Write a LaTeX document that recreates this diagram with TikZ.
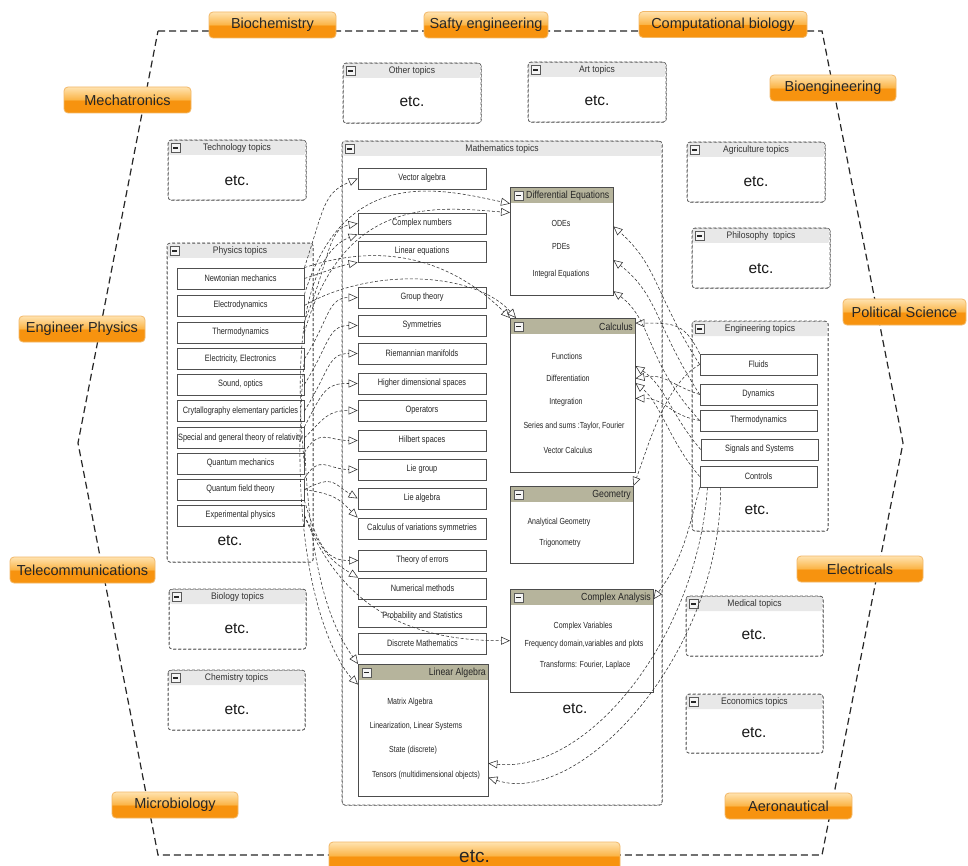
\documentclass[tikz,border=0pt]{standalone}
\usepackage{fontspec}
\setmainfont{Liberation Sans}
\newfontfamily\narrowfont[FakeStretch=0.8]{Liberation Sans}
\newfontfamily\titlefont[FakeStretch=0.9]{Liberation Sans}
\newfontfamily\headfont[FakeStretch=0.85]{Liberation Sans}
\usetikzlibrary{arrows.meta}

\definecolor{orD}{HTML}{F7930F}
\definecolor{orL}{HTML}{FBB548}
\definecolor{orLL}{HTML}{FFE3B0}
\definecolor{orB}{HTML}{F2B868}
\definecolor{headgrey}{HTML}{E8E8E8}
\definecolor{framegrey}{HTML}{5A5A5A}
\definecolor{olivegrey}{HTML}{B6B49C}
\definecolor{itemline}{HTML}{505050}
\definecolor{linkgrey}{HTML}{2E2E2E}

% glossy orange: saturated lower half, light gradient upper half
\pgfdeclareverticalshading{gloss}{100bp}{color(0bp)=(orD); color(25bp)=(orD); color(49bp)=(orD); color(51bp)=(orL); color(75bp)=(orLL); color(100bp)=(orLL)}

\tikzset{
  catlabel/.style={draw=orB, line width=0.8pt, rounded corners=4pt, shading=gloss,
    minimum height=26pt, inner xsep=3pt, font=\fontsize{14.5}{16}\selectfont, text=black!85},
  topicframe/.style={draw=framegrey, dash pattern=on 3pt off 2pt, line width=0.6pt,
    rounded corners=3pt, fill=white, inner sep=0pt},
  topictitle/.style={inner sep=0pt, text=black!80, font=\titlefont\fontsize{9.5}{11}\selectfont},
  minusicon/.style={draw=gray!70!black, fill=gray!8, minimum size=9pt, inner sep=0pt,
    path picture={\draw[line width=1.4pt, black!85]
      ([xshift=-2.5pt]path picture bounding box.center) -- ([xshift=2.5pt]path picture bounding box.center);}},
  etctext/.style={inner sep=0pt, font=\fontsize{15.5}{17}\selectfont, text=black!90},
  innerframe/.style={fill=white, draw=none, inner sep=0pt},
  innerline/.style={draw=black!70, line width=0.8pt},
  innertitle/.style={inner sep=0pt, text=black!85, font=\headfont\fontsize{10.3}{12}\selectfont},
  inneritem/.style={inner sep=0pt, text=black!85, font=\narrowfont\fontsize{8.8}{10}\selectfont},
  item/.style={draw=itemline, line width=0.7pt, fill=white, minimum width=127pt,
    minimum height=21pt, inner sep=1pt, text=black!85, font=\narrowfont\fontsize{9.2}{10}\selectfont},
  mathitem/.style={item, minimum width=128pt},
  engitem/.style={item, minimum width=117pt},
  link/.style={draw=linkgrey, line width=0.55pt, dash pattern=on 3pt off 2pt,
    -{Triangle[open, length=9pt, width=8pt]}},
}

% dashed topic container: name, x1, y1, x2, y2, title
\newcommand{\topicbox}[6]{%
  \node[topicframe, anchor=north west, minimum width={#4-#2}, minimum height={#5-#3}] (#1) at (#2,#3) {};
  \fill[headgrey, rounded corners=2pt] (#2+0.8,#3+0.8) rectangle (#4-0.8,#3+15);
  \draw[framegrey, dash pattern=on 3pt off 2pt, line width=0.6pt, rounded corners=3pt] (#2,#3) rectangle (#4,#5);
  \node[minusicon] (#1m) at (#2+7.5,#3+8) {};
  \node[topictitle] (#1t) at ({(#2+#4)/2},#3+8) {#6};
}

% solid subject box with olive header: name, x1, y1, x2, y2, title, anchor, title x
\newcommand{\subjectbox}[8]{%
  \node[innerframe, anchor=north west, minimum width={#4-#2}, minimum height={#5-#3}] (#1) at (#2,#3) {};
  \fill[olivegrey] (#2,#3) rectangle (#4,#3+16);
  \draw[innerline] (#2,#3) rectangle (#4,#5);
  \node[minusicon] (#1m) at (#2+8.5,#3+8.5) {};
  \node[innertitle, #7] (#1t) at (#8,#3+8.5) {#6};
}

\begin{document}
\begin{tikzpicture}[x=1pt, y=-1pt]
\useasboundingbox (0,0) rectangle (968,866);
\fill[white] (0,0) rectangle (968,866);

% outer dashed hexagon
\draw[black!85, line width=1.2pt, dash pattern=on 7pt off 4pt]
  (158,31) -- (822,31) -- (903,443) -- (822,855) -- (158,855) -- (78,443) -- cycle;

% discipline labels on the outline
\node[catlabel, minimum width=127pt] (biochem)  at (272.5,25)  {Biochemistry};
\node[catlabel, minimum width=124pt] (safety)   at (486,25)    {Safty engineering};
\node[catlabel, minimum width=168pt] (compbio)  at (723,24.5)  {Computational biology};
\node[catlabel, minimum width=127pt] (mecha)    at (127.5,100) {Mechatronics};
\node[catlabel, minimum width=126pt] (bioeng)   at (833,88)    {Bioengineering};
\node[catlabel, minimum width=126pt] (engphys)  at (82,329)    {Engineer Physics};
\node[catlabel, minimum width=123pt] (polsci)   at (904.5,312) {Political Science};
\node[catlabel, minimum width=145pt] (telecom)  at (82.5,570)  {Telecommunications};
\node[catlabel, minimum width=126pt] (elec)     at (860,569)   {Electricals};
\node[catlabel, minimum width=126pt] (microbio) at (175,805)   {Microbiology};
\node[catlabel, minimum width=127pt] (aero)     at (788.5,806) {Aeronautical};
\node[catlabel, minimum width=291pt, minimum height=28pt, font=\fontsize{19}{21}\selectfont]
  (etcbottom) at (474.5,856) {etc.};

% topic containers
\topicbox{other}{343}{63}{481}{123}{Other topics}
\node[etctext] (otheretc) at (412,102) {etc.};
\topicbox{art}{528}{62}{666}{122}{Art topics}
\node[etctext] (artetc) at (597,101) {etc.};
\topicbox{tech}{168}{140}{306}{200}{Technology topics}
\node[etctext] (techetc) at (237,181) {etc.};
\topicbox{agri}{687}{142}{825}{202}{Agriculture topics}
\node[etctext] (agrietc) at (756,182) {etc.};
\topicbox{philo}{692}{228}{830}{288}{Philosophy\ \ topics}
\node[etctext] (philoetc) at (761,269) {etc.};
\topicbox{phys}{167}{243}{313}{562}{Physics topics}
\node[etctext] (physetc) at (230,541) {etc.};
\topicbox{math}{342}{141}{662}{805}{Mathematics topics}
\node[etctext] (mathetc) at (575,709) {etc.};
\topicbox{eng}{692}{321}{828}{531}{Engineering topics}
\node[etctext] (engetc) at (757,510) {etc.};
\topicbox{bio}{169}{589}{306}{649}{Biology topics}
\node[etctext] (bioetc) at (237,629) {etc.};
\topicbox{chem}{168}{670}{305}{730}{Chemistry topics}
\node[etctext] (chemetc) at (237,710) {etc.};
\topicbox{med}{686}{596}{823}{656}{Medical topics}
\node[etctext] (medetc) at (754,635) {etc.};
\topicbox{econ}{686}{694}{823}{753}{Economics topics}
\node[etctext] (econetc) at (754,733) {etc.};

% physics items
\node[item] (nm) at (240.5,278.5) {Newtonian mechanics};
\node[item] (ed) at (240.5,305.5) {Electrodynamics};
\node[item] (th) at (240.5,332.5) {Thermodynamics};
\node[item] (ee) at (240.5,359)   {Electricity, Electronics};
\node[item] (so) at (240.5,384.5) {Sound, optics};
\node[item] (cr) at (240.5,411)   {Crytallography elementary particles};
\node[item] (sg) at (240.5,438)   {Special and general theory of relativity};
\node[item] (qm) at (240.5,463.5) {Quantum mechanics};
\node[item] (qf) at (240.5,489.5) {Quantum field theory};
\node[item] (ep) at (240.5,515.5) {Experimental physics};

% mathematics items
\node[mathitem] (va)  at (422,178.5) {Vector algebra};
\node[mathitem] (cn)  at (422,223.5) {Complex numbers};
\node[mathitem] (le)  at (422,251.5) {Linear equations};
\node[mathitem] (gt)  at (422,297.5) {Group theory};
\node[mathitem] (sy)  at (422,325.5) {Symmetries};
\node[mathitem] (rm)  at (422,353.5) {Riemannian manifolds};
\node[mathitem] (hd)  at (422,383.5) {Higher dimensional spaces};
\node[mathitem] (op)  at (422,410.5) {Operators};
\node[mathitem] (hs)  at (422,440.5) {Hilbert spaces};
\node[mathitem] (lg)  at (422,469.5) {Lie group};
\node[mathitem] (lal) at (422,498.5) {Lie algebra};
\node[mathitem] (cv)  at (422,528.5) {Calculus of variations symmetries};
\node[mathitem] (te)  at (422.5,560.5) {Theory of errors};
\node[mathitem] (nu)  at (422.5,588.5) {Numerical methods};
\node[mathitem] (ps)  at (422.5,616.5) {Probability and Statistics};
\node[mathitem] (dm)  at (422.5,643.5) {Discrete Mathematics};

% subject boxes
\subjectbox{de}{510}{187}{613}{295}{Differential Equations}{anchor=west}{526}
\node[inneritem] (deode) at (561,223) {ODEs};
\node[inneritem] (depde) at (561,247) {PDEs};
\node[inneritem] (deint) at (561,274) {Integral Equations};

\subjectbox{calc}{510}{318}{635}{472}{Calculus}{anchor=east}{633}
\node[inneritem] (cfun) at (567,356) {Functions};
\node[inneritem] (cdif) at (568,378) {Differentiation};
\node[inneritem] (cint) at (566,402) {Integration};
\node[inneritem] (cser) at (574,426) {Series and sums :Taylor, Fourier};
\node[inneritem] (cvec) at (568,450) {Vector Calculus};

\subjectbox{geo}{510}{486}{633}{563}{Geometry}{anchor=east}{631}
\node[inneritem] (gana) at (559,522) {Analytical Geometry};
\node[inneritem] (gtri) at (560,543) {Trigonometry};

\subjectbox{ca}{510}{589}{653}{692}{Complex Analysis}{anchor=east}{651}
\node[inneritem] (cavar) at (583,626) {Complex Variables};
\node[inneritem] (cafrq) at (584,644) {Frequency domain,variables and plots};
\node[inneritem] (catrf) at (585,665) {Transforms: Fourier, Laplace};

\subjectbox{lin}{358}{664}{488}{796}{Linear Algebra}{anchor=east}{486}
\node[inneritem] (lmat) at (410,702) {Matrix Algebra};
\node[inneritem] (llin) at (416,726) {Linearization, Linear Systems};
\node[inneritem] (lsta) at (413,750) {State (discrete)};
\node[inneritem] (lten) at (426,775) {Tensors (multidimensional objects)};

% engineering items
\node[engitem] (fl) at (758.5,364.5) {Fluids};
\node[engitem] (dy) at (758.5,394.5) {Dynamics};
\node[engitem] (et) at (758.5,420.5) {Thermodynamics};
\node[engitem] (ss) at (759.5,449.5) {Signals and Systems};
\node[engitem] (co) at (758.5,476.5) {Controls};

% physics to mathematics
\draw[link] (nm.north east) .. controls +(20,-60) and +(-35,15) .. (va.west);
\draw[link] (nm.east) .. controls +(25,-8) and +(-20,4) .. (le.south west);
\draw[link] (nm.north east) .. controls +(90,-30) and +(-50,-50) .. (calc.north west);
\draw[link] (ed.east) .. controls +(70,-40) and +(-40,-45) .. ([xshift=6pt]calc.north west);
\draw[link] (ed.north east) .. controls +(40,-130) and +(-70,-15) .. (de.144);
\draw[link] (th.east) .. controls +(40,-140) and +(-70,-5) .. (de.151);
\draw[link] (th.north east) .. controls +(25,-60) and +(-30,5) .. (cn.west);
\draw[link] (qm.east) .. controls +(-15,-150) and +(-40,15) .. (cn.south west);
\draw[link] (ee.east) .. controls +(25,-40) and +(-30,0) .. (gt.west);
\draw[link] (so.east) .. controls +(25,-40) and +(-30,0) .. (sy.west);
\draw[link] (cr.east) .. controls +(25,-40) and +(-30,0) .. (rm.west);
\draw[link] (sg.north east) .. controls +(20,-40) and +(-30,0) .. (hd.west);
\draw[link] (sg.east) .. controls +(20,-20) and +(-30,0) .. (op.west);
\draw[link] (qm.north east) .. controls +(15,-25) and +(-30,0) .. (hs.west);
\draw[link] (qf.north east) .. controls +(15,-25) and +(-30,0) .. (lg.west);
\draw[link] (qf.east) .. controls +(30,-15) and +(-25,-15) .. (lal.west);
\draw[link] (qf.east) .. controls +(30,5) and +(-20,-20) .. (cv.north west);
\draw[link] (qf.south east) .. controls +(15,50) and +(-30,0) .. (te.west);
\draw[link] (ep.east) .. controls +(20,40) and +(-25,-15) .. (nu.north west);
\draw[link] (ep.east) .. controls +(40,100) and +(-90,0) .. (ca.west);
\draw[link] (sg.east) .. controls +(5,140) and +(-25,-35) .. (lin.north west);
\draw[link] (ee.east) .. controls +(-20,220) and +(-20,-20) .. (lin.145);

% engineering to mathematics
\draw[link] (fl.west) .. controls +(-45,-70) and +(45,40) .. (de.16);
\draw[link] (dy.west) .. controls +(-45,-70) and +(45,35) .. (de.-20);
\draw[link] (et.west) .. controls +(-55,-60) and +(40,30) .. (de.-44);
\draw[link] (fl.north west) .. controls +(-15,-30) and +(40,0) .. (calc.49);
\draw[link] (ss.west) .. controls +(-30,-35) and +(30,20) .. (calc.25);
\draw[link] (dy.west) .. controls +(-30,-10) and +(30,-5) .. (calc.15);
\draw[link] (co.west) .. controls +(-30,-35) and +(25,20) .. (calc.11);
\draw[link] (et.west) .. controls +(-30,-5) and +(30,0) .. (calc.-3);
\draw[link] (fl.west) .. controls +(-35,20) and +(15,-40) .. (geo.north east);
\draw[link] (co.south west) .. controls +(-15,60) and +(25,-35) .. (ca.30);
\draw[link] (co.-168) .. controls +(-10,150) and +(100,10) .. (lin.-27);
\draw[link] (co.-164) .. controls +(0,170) and +(90,30) .. (lin.-36);
\end{tikzpicture}
\end{document}
